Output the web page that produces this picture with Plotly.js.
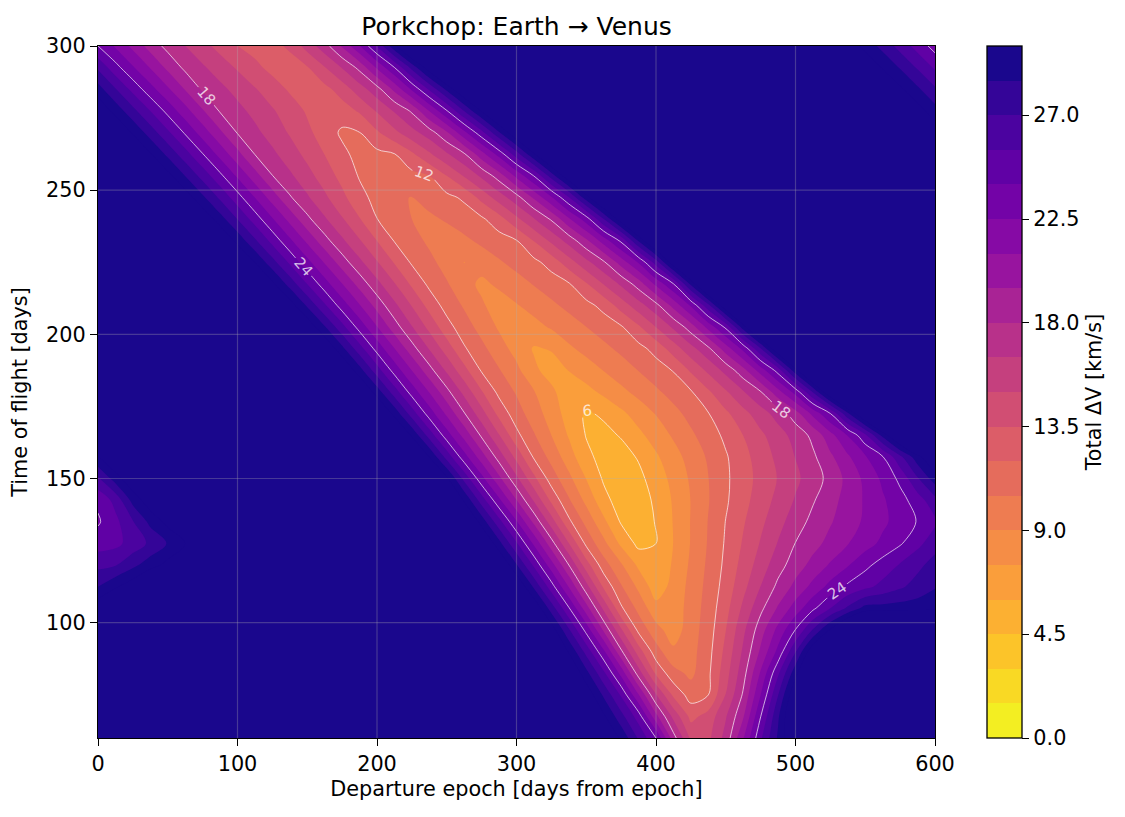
<!DOCTYPE html>
<html>
<head>
<meta charset="utf-8">
<script src="https://cdn.plot.ly/plotly-3.0.1.min.js"></script>
<style>html,body{margin:0;padding:0;background:#fff;}#chart{width:1125px;height:817px;}</style>
</head>
<body>
<div id="chart"></div>
<script>
// Departure epoch [days] (x, every 12.5 d) and time of flight [days] (y, every 7.5 d)
const departure = [0,12.5,25,37.5,50,62.5,75,87.5,100,112.5,125,137.5,150,162.5,175,187.5,200,212.5,225,237.5,250,262.5,275,287.5,300,312.5,325,337.5,350,362.5,375,387.5,400,412.5,425,437.5,450,462.5,475,487.5,500,512.5,525,537.5,550,562.5,575,587.5,600];
const tof = [60,67.5,75,82.5,90,97.5,105,112.5,120,127.5,135,142.5,150,157.5,165,172.5,180,187.5,195,202.5,210,217.5,225,232.5,240,247.5,255,262.5,270,277.5,285,292.5,300];

// Total delta-V [km/s], one row per time of flight (38 = off-scale dark region)
const dv_060 = [38,38,38,38,38,38,38,38,38,38,38,38,38,38,38,38,38,38,38,38,38,38,38,38,38,38,38,38,35.25,32.44,29.63,26.81,24,18.64,14.7,14.64,17.04,20.87,25.22,28.75,32.3,35.8,38,38,38,38,38,38,38];
const dv_067 = [38,38,38,38,38,38,38,38,38,38,38,38,38,38,38,38,38,38,38,38,38,38,38,38,38,38,38,35.8,33.04,30.29,27.53,24.77,19.97,16.06,13.06,14.08,16.37,19.33,23.96,28.26,32.55,36.8,38,38,38,38,38,38,38];
const dv_075 = [38,38,38,38,38,38,38,38,38,38,38,38,38,38,38,38,38,38,38,38,38,38,38,38,38,38,37.05,34.11,31.16,28.22,25.27,21.06,16.6,13.16,11.32,11.98,15.04,18.2,22.47,26.93,31.5,36.1,38,38,38,38,38,38,38];
const dv_082 = [38,38,38,38,38,38,38,38,38,38,38,38,38,38,38,38,38,38,38,38,38,38,38,38,38,38,35.26,32.12,28.98,25.84,21.99,17.28,13.21,11.03,10.15,11.7,14.41,17.4,21.18,25.23,29.49,33.75,38,38,38,38,38,38,38];
const dv_090 = [38,38,38,38,38,38,38,38,38,38,38,38,38,38,38,38,38,38,38,38,38,38,38,38,38,36.59,33.22,29.85,26.48,22.81,18.29,14.23,11.16,9.28,9.95,11.5,13.92,16.75,19.76,22.92,26.88,31.28,35.7,38,38,38,38,38,38];
const dv_097 = [33.8,35,37,38,38,38,38,38,38,38,38,38,38,38,38,38,38,38,38,38,38,38,38,38,38,34.52,30.87,27.21,23.49,19.25,15.21,11.6,9.53,8.24,9.77,11.3,13.47,16.16,18.83,21.44,24.05,27.12,30.2,33.27,36.3,38,38,38,38];
const dv_105 = [31.2,32.5,34,36,38,38,38,38,38,38,38,38,38,38,38,38,38,38,38,38,38,38,38,38,35.1,31.45,27.8,24.15,20.15,16.18,12.25,10.06,7.98,8.11,9.63,11.14,13,15.32,17.63,19.68,21.68,23.68,25.49,27.27,29.04,29.1,29.2,29.3,29.4];
const dv_112 = [28.5,29.8,31,33,35,38,38,38,38,38,38,38,38,38,38,38,38,38,38,38,38,38,38,35.29,31.75,28.22,24.68,20.92,17.1,13.24,10.65,8.68,6.7,7.97,9.47,10.97,12.61,14.56,16.52,18.37,19.92,21.46,23.01,24.3,25.12,25.94,26.76,27.58,28.4];
const dv_120 = [26.6,26.9,28.1,29.3,30.5,32,34,36,38,38,38,38,38,38,38,38,38,38,38,38,38,38,38,32.02,28.61,25.2,21.64,18,14.19,11.16,9.18,7.19,6.18,7.72,9.25,10.79,12.35,14.03,15.71,17.39,18.77,19.97,21.18,22.38,23.59,24.65,25.63,26.62,27.6];
const dv_127 = [24.8,25.1,26.1,27.3,28.6,30,32,34,36,38,38,38,38,38,38,38,38,38,38,38,38,38,32.29,28.98,25.67,22.22,18.63,15.03,11.64,9.41,7.18,5.59,5.99,7.53,9.08,10.63,12.18,13.65,15.12,16.59,18.04,19.0,19.96,20.93,21.89,22.85,23.82,25.07,26.4];
const dv_135 = [23.8,25.1,26.9,28.9,30.5,32.5,34.5,36.5,38,38,38,38,38,38,38,38,38,38,38,38,38,32.66,29.35,26.04,22.65,19.13,15.71,12.35,10.04,7.84,5.84,5.06,6.1,7.58,9.07,10.56,12.04,13.35,14.66,15.98,17.29,18.43,19.37,20.31,21.25,22.19,23.13,24.09,25.2];
const dv_142 = [24.3,26,29,31,33,35,37,38,38,38,38,38,38,38,38,38,38,38,38,38,33.31,29.79,26.28,22.84,19.53,16.31,13.16,10.68,8.59,6.5,5.25,5.23,6.3,7.67,9.04,10.42,11.79,13.02,14.23,15.44,16.64,17.85,18.97,20.08,21.19,22.3,23.41,24.79,26.5];
const dv_150 = [26.8,29.2,31.5,33.5,35.5,37.5,38,38,38,38,38,38,38,38,38,38,38,38,38,34.05,30.3,26.55,23.0,19.89,16.84,13.87,11.29,9.38,7.46,5.8,4.95,5.61,6.69,7.95,9.21,10.47,11.74,12.87,13.98,15.08,16.18,17.28,18.5,19.94,21.37,22.8,24.39,26.84,29.28];
const dv_157 = [29.9,32,34,36,38,38,38,38,38,38,38,38,38,38,38,38,38,38,33.54,30.0,26.46,23.12,20.21,17.33,14.52,11.81,10,8.2,6.39,5.47,5.4,6.14,7.28,8.42,9.56,10.7,11.84,13.01,14.19,15.37,16.55,17.72,19.2,20.77,22.34,23.9,26.61,29.39,32.18];
const dv_165 = [32.9,35,38,38,38,38,38,38,38,38,38,38,38,38,38,38,38,33.08,29.73,26.38,23.21,20.47,17.74,15.08,12.42,10.63,9.0,7.37,5.92,5.57,6.12,7.14,8.17,9.2,10.23,11.26,12.33,13.51,14.69,15.87,17.05,18.4,20.48,22.57,25.17,28.92,32.67,38,38];
const dv_172 = [36,38,38,38,38,38,38,38,38,38,38,38,38,38,38,38,32.67,29.49,26.31,23.3,20.71,18.12,15.59,13.05,11.17,9.74,8.31,6.88,5.8,6.24,7.18,8.13,9.08,10.03,10.98,11.93,13.2,14.5,15.81,17.11,18.82,21.39,23.96,28.13,32.33,36.5,38,38,38];
const dv_180 = [38,38,38,38,38,38,38,38,38,38,38,38,38,38,38,32.3,29.27,26.25,23.37,20.92,18.47,16.05,13.64,11.6,10.34,9.09,7.83,6.57,7.01,7.82,8.63,9.43,10.24,11.05,11.85,13.26,14.8,16.35,17.89,20.44,23.07,27.09,31.86,36.6,38,38,38,38,38];
const dv_187 = [38,38,38,38,38,38,38,38,38,38,38,38,38,38,31.96,29.08,26.19,23.42,20.99,18.56,16.26,13.99,11.85,10.61,9.38,7.8,6.9,7.54,8.29,9.04,9.79,10.54,11.29,12.08,13.71,15.33,16.96,18.97,21.66,24.62,29.42,34.2,38,38,38,38,38,38,38];
const dv_195 = [38,38,38,38,38,38,38,38,38,38,38,38,38,31.65,28.9,26.14,23.46,21.04,18.62,16.42,14.3,12.19,10.89,9.66,8.44,7.36,7.6,8.74,9.44,10.13,10.82,11.51,12.51,14.23,15.96,17.68,20.2,22.9,26.87,31.72,36.6,38,38,38,38,38,38,38,38];
const dv_202 = [38,38,38,38,38,38,38,38,38,38,38,38,31.29,28.65,26.01,23.43,21.08,18.72,16.6,14.59,12.58,11.16,9.99,8.81,7.83,8.49,9.16,9.82,10.49,11.15,11.82,13.26,15.0,16.74,18.74,21.44,24.27,29.17,34.1,38,38,38,38,38,38,38,38,38,38];
const dv_210 = [38,38,38,38,38,38,38,38,38,38,38,30.79,28.26,25.72,23.3,21.12,18.94,16.88,14.92,12.96,11.43,10.33,9.22,8.24,8.89,9.55,10.21,10.87,11.52,12.46,14.15,15.85,17.54,19.98,22.7,26.57,31.5,36.4,38,38,38,38,38,38,38,38,38,38,38];
const dv_217 = [38,38,38,38,38,38,38,38,38,38,30.33,27.9,25.46,23.15,21.03,18.92,16.95,15.09,13.23,11.66,10.63,9.61,8.66,9.3,9.94,10.59,11.23,11.87,13.37,15.08,16.78,18.73,21.35,23.96,28.86,33.8,38,38,38,38,38,38,38,38,38,38,38,38,38];
const dv_225 = [38,38,38,38,38,38,38,38,32.25,29.91,27.56,25.22,22.98,20.86,18.73,16.86,15.11,13.37,11.8,10.88,9.95,8.97,9.71,10.34,10.97,11.6,12.61,14.34,16.06,17.79,20.17,22.64,26.23,31.21,36.2,38,38,38,38,38,38,38,38,38,38,38,38,38,38];
const dv_232 = [38,38,38,38,38,38,38,31.77,29.51,27.25,24.99,22.81,20.68,18.54,16.77,15.12,13.48,11.91,11.07,10.22,9.64,10.21,10.79,11.36,11.94,13.57,15.33,17.09,19.2,21.69,24.31,28.67,33.03,37.5,38,38,38,38,38,38,38,38,38,38,38,38,38,38,38];
const dv_240 = [38,38,38,38,38,38,31.33,29.15,26.96,24.78,22.63,20.5,18.36,16.7,15.14,13.59,12.02,11.26,10.5,10.18,10.7,11.22,11.75,12.91,14.65,16.39,18.2,20.75,23.29,26.96,31.06,35.2,38,38,38,38,38,38,38,38,38,38,38,38,38,38,38,38,38];
const dv_247 = [38,38,38,38,38,30.91,28.8,26.7,24.59,22.46,20.31,18.17,16.7,15.29,13.88,12.46,11.53,10.6,10.48,11.15,11.61,12.26,13.99,15.72,17.45,19.76,22.36,25.43,29.31,33.2,37.1,38,38,38,38,38,38,38,38,38,38,38,38,38,38,38,38,38,38];
const dv_255 = [38,38,38,32.59,30.53,28.47,26.41,24.35,22.25,20.14,18.03,16.77,15.52,14.27,13.02,11.87,11.18,11.17,11.57,11.97,13.51,15.16,16.81,18.74,21.39,24.06,27.71,31.36,35,38,38,38,38,38,38,38,38,38,38,38,38,38,38,38,38,38,38,36.5,35];
const dv_262 = [36.25,34.22,32.19,30.16,28.13,26.1,24.07,22.01,19.96,17.95,16.83,15.71,14.59,13.47,12.35,11.52,11.62,11.94,13.23,14.76,16.29,17.82,20.38,23.09,26.31,29.78,33.25,36.7,38,38,38,38,38,38,38,38,38,38,38,38,38,38,38,38,38,38,36,34.5,33];
const dv_270 = [33.8,31.8,29.8,27.79,25.79,23.79,21.79,19.79,17.89,16.88,15.86,14.85,13.83,12.81,11.75,11.98,13.29,14.63,15.97,17.31,19.33,22.1,25.03,28.34,31.65,34.96,38,38,38,38,38,38,38,38,38,38,38,38,38,38,38,38,38,38,38,35.7,34.1,32.6,31];
const dv_277 = [31.42,29.45,27.47,25.5,23.53,21.59,19.64,17.86,16.96,16.06,15.16,14.26,13.32,12.2,12.81,13.68,15.16,16.64,18.23,21.06,23.89,27.03,30.19,33.35,36.5,38,38,38,38,38,38,38,38,38,38,38,38,38,38,38,38,38,38,36.8,35.3,33.7,32.2,30.7,29.1];
const dv_285 = [29.14,27.09,25.03,23.09,21.25,19.41,17.79,16.9,16.01,15.11,14.22,13.3,12.3,13.05,14.16,15.8,17.44,19.88,22.74,25.74,28.85,31.96,35.07,38,38,38,38,38,38,38,38,38,38,38,38,38,38,38,38,38,38,38,36.4,34.9,33.4,31.8,30.3,28.76,27.22];
const dv_292 = [26.73,24.56,22.68,20.92,19.15,17.67,16.72,15.78,14.83,13.89,13.05,12.6,13.38,14.91,16.58,18.42,21.19,23.96,27.44,30.93,34.4,37.9,38,38,38,38,38,38,38,38,38,38,38,38,38,38,38,38,38,38,37.6,36,34.5,33,31.4,29.9,28.37,26.84,25.3];
const dv_300 = [24,22.3,20.59,18.89,17.52,16.51,15.51,14.5,13.5,12.94,12.9,13.85,15.61,17.37,19.71,22.39,25.61,29.62,33.64,37.6,38,38,38,38,38,38,38,38,38,38,38,38,38,38,38,38,38,38,38,37.2,35.7,34.1,32.6,31.06,29.5,27.99,26.45,24.9,23.4];

const dvRows = [dv_060,dv_067,dv_075,dv_082,dv_090,dv_097,dv_105,dv_112,dv_120,dv_127,dv_135,dv_142,dv_150,dv_157,dv_165,dv_172,dv_180,dv_187,dv_195,dv_202,dv_210,dv_217,dv_225,dv_232,dv_240,dv_247,dv_255,dv_262,dv_270,dv_277,dv_285,dv_292,dv_300];
dvRows.forEach((r, i) => { if (r.length !== departure.length) console.error('row', tof[i], 'has', r.length); });

// contour levels / ticks
const fillLevels = {start: 0, end: 30, size: 1.5};
const lineLevels = {start: 6, end: 24, size: 6};
const cbTicks = [0, 4.5, 9, 13.5, 18, 22.5, 27];
const xTicks = [0, 100, 200, 300, 400, 500, 600];
const yTicks = [100, 150, 200, 250, 300];
const gridX = [100, 200, 300, 400, 500];
const gridY = [100, 150, 200, 250];

// plasma colormap anchors (0 -> 1)
const plasmaAnchors = ['#0d0887','#41049d','#6a00a8','#8f0da4','#b12a90','#cc4778','#e16462','#f2844b','#fca636','#fcce25','#f0f921'];
function hex2rgb(h){return [parseInt(h.substr(1,2),16),parseInt(h.substr(3,2),16),parseInt(h.substr(5,2),16)];}
function plasma(t){
  t = Math.max(0, Math.min(1, t));
  const p = t * 10, i = Math.min(9, Math.floor(p)), f = p - i;
  const a = hex2rgb(plasmaAnchors[i]), b = hex2rgb(plasmaAnchors[i+1]);
  const c = a.map((v, k) => Math.round(v + (b[k] - v) * f));
  return 'rgb(' + c.join(',') + ')';
}
const colorscale = [];
for (let i = 0; i <= 9; i++) colorscale.push([i / 10, plasma(1 - i / 10)]);
colorscale.push([0.975, plasma(0.025)]);
colorscale.push([1, plasma(0.025)]);

const FONT = 'DejaVu Sans, Arial, sans-serif';
const txtSize = 20.8;

const fillTrace = {
  type: 'contour', x: departure, y: tof, z: dvRows,
  zmin: 0, zmax: 30, autocontour: false,
  contours: {start: fillLevels.start, end: fillLevels.end, size: fillLevels.size, coloring: 'fill', showlines: false},
  line: {width: 0, smoothing: 1},
  colorscale: colorscale,
  hoverinfo: 'skip',
  colorbar: {
    thickness: 35, thicknessmode: 'pixels', len: 1, lenmode: 'fraction',
    x: 1.062, xanchor: 'left', y: 0.5, yanchor: 'middle', ypad: 0, xpad: 0,
    outlinewidth: 1.3, outlinecolor: '#000',
    tickmode: 'array', tickvals: cbTicks, ticktext: cbTicks.map(v => v.toFixed(1)),
    ticks: 'outside', ticklen: 7, tickwidth: 1.3, tickcolor: '#000',
    tickfont: {family: FONT, size: txtSize, color: '#000'},
    title: {text: 'Total ΔV [km/s]', side: 'right', font: {family: FONT, size: txtSize, color: '#000'}}
  }
};

const lineTrace = {
  type: 'contour', x: departure, y: tof, z: dvRows,
  autocontour: false,
  contours: {start: lineLevels.start, end: lineLevels.end, size: lineLevels.size, coloring: 'none',
             showlabels: true, labelfont: {family: FONT, size: 15, color: 'rgba(255,255,255,0.75)'}},
  line: {color: 'rgba(255,255,255,0.75)', width: 0.9, smoothing: 1},
  showscale: false, hoverinfo: 'skip'
};

const gridStyle = {color: 'rgba(176,176,176,0.3)', width: 1.2};
const shapes = [];
gridX.forEach(v => shapes.push({type: 'line', xref: 'x', yref: 'paper', x0: v, x1: v, y0: 0, y1: 1, line: gridStyle, layer: 'above'}));
gridY.forEach(v => shapes.push({type: 'line', xref: 'paper', yref: 'y', x0: 0, x1: 1, y0: v, y1: v, line: gridStyle, layer: 'above'}));

const axisCommon = {
  ticks: 'outside', ticklen: 7, tickwidth: 1.3, tickcolor: '#000',
  showline: true, mirror: true, linecolor: '#000', linewidth: 1.3,
  showgrid: false, zeroline: false,
  tickfont: {family: FONT, size: txtSize, color: '#000'}
};

const layout = {
  width: 1125, height: 817,
  margin: {l: 98, r: 190, t: 46, b: 79},
  paper_bgcolor: '#fff', plot_bgcolor: '#fff',
  font: {family: FONT, color: '#000'},
  title: {text: 'Porkchop: Earth → Venus', x: 0.5, xref: 'paper', xanchor: 'center',
          y: 1 - 26 / 817, yref: 'container', yanchor: 'middle', font: {family: FONT, size: 25, color: '#000'}},
  xaxis: Object.assign({}, axisCommon, {range: [0, 600], tickmode: 'array', tickvals: xTicks,
          title: {text: 'Departure epoch [days from epoch]', font: {family: FONT, size: txtSize}, standoff: 6}}),
  yaxis: Object.assign({}, axisCommon, {range: [60, 300], tickmode: 'array', tickvals: yTicks,
          title: {text: 'Time of flight [days]', font: {family: FONT, size: txtSize}, standoff: 12}}),
  shapes: shapes,
  showlegend: false
};

Plotly.newPlot('chart', [fillTrace, lineTrace], layout, {displayModeBar: false, responsive: false});
</script>
</body>
</html>
